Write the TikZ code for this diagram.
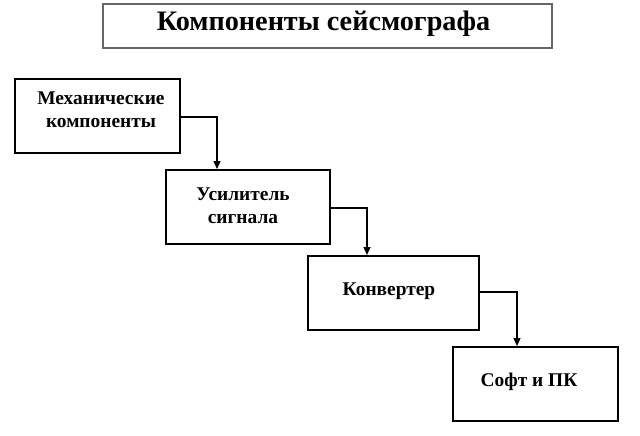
\documentclass[tikz,border=0pt]{standalone}
\usepackage{fontspec}
\setmainfont{Liberation Serif}
\usetikzlibrary{arrows.meta}
\begin{document}
\begin{tikzpicture}[x=1pt,y=-1pt,
  blk/.style={draw=black,line width=2pt,fill=white,inner sep=0pt},
  lbl/.style={font=\bfseries\fontsize{19.4}{23}\selectfont,align=center,inner sep=0pt},
  conn/.style={draw=black,line width=1.3pt,-{Triangle[length=8pt,width=7pt]}}]
\useasboundingbox[fill=white] (0,0) rectangle (640,436);
\node[draw=black!60,line width=2pt,minimum width=449pt,minimum height=44pt,inner sep=0pt] (title) at (327.5,26) {};
\node[inner sep=0pt,anchor=base,font=\bfseries\fontsize{28.2}{32}\selectfont] (tt) at (323.5,31) {Компоненты сейсмографа};
\node[blk,minimum width=165pt,minimum height=74pt] (b1) at (97.5,116) {};
\node[blk,minimum width=164pt,minimum height=74pt] (b2) at (248,207) {};
\node[blk,minimum width=171pt,minimum height=74pt] (b3) at (393.5,293) {};
\node[blk,minimum width=165pt,minimum height=74pt] (b4) at (535.5,384) {};
\node[lbl] (t1) at (101,110) {Механические\\компоненты};
\node[lbl] (t2) at (243,206) {Усилитель\\сигнала};
\node[lbl] (t3) at (389,291) {Конвертер};
\node[lbl] (t4) at (529,382) {Софт и ПК};
\draw[conn] (b1.east |- 0,117) -| (b2.north -| 217,0);
\draw[conn] (b2.east |- 0,208) -| (b3.north -| 367,0);
\draw[conn] (b3.east |- 0,292) -| (b4.north -| 517,0);
\end{tikzpicture}
\end{document}
